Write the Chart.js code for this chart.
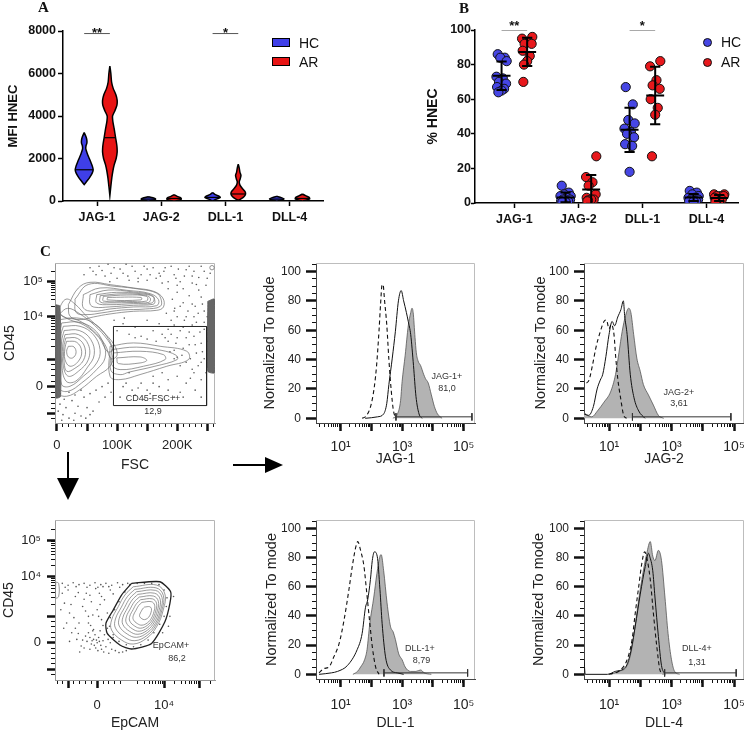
<!DOCTYPE html>
<html>
<head>
<meta charset="utf-8">
<script src="https://cdn.jsdelivr.net/npm/chart.js@4.4.1/dist/chart.umd.min.js"></script>
<style>
  html, body { margin:0; padding:0; background:#fff; }
  body { width:744px; height:732px; position:relative; overflow:hidden; font-family:'Liberation Sans', Arial, sans-serif; color:#111; }
  canvas { position:absolute; }
  .t { position:absolute; white-space:nowrap; line-height:1; }
  .c { transform:translate(-50%,-50%); }
</style>
</head>
<body>
<script>
// ===================== DATA =====================
const categories = ['JAG-1', 'JAG-2', 'DLL-1', 'DLL-4'];
const groups = ['HC', 'AR'];
const mfiTicks = [0, 2000, 4000, 6000, 8000];
const pctTicks = [0, 20, 40, 60, 80, 100];

// Panel A : violin profiles  [MFI, relative density]
const violinHC_JAG1 = [[3220,0],[3000,0.22],[2850,0.3],[2720,0.3],[2600,0.2],[2450,0.18],[2250,0.33],[2050,0.52],[1850,0.72],[1650,0.9],[1470,1],[1300,0.88],[1100,0.6],[950,0.33],[770,0]];
const violinHC_JAG2 = [[200,0],[150,0.5],[100,0.8],[50,0.7],[0,0]];
const violinHC_DLL1 = [[400,0],[300,0.3],[220,0.75],[160,0.85],[100,0.5],[40,0.2],[0,0]];
const violinHC_DLL4 = [[220,0],[160,0.5],[100,0.8],[50,0.6],[0,0]];
const violinAR_JAG1 = [[6350,0],[6000,0.11],[5600,0.19],[5300,0.37],[5000,0.67],[4750,0.81],[4500,0.78],[4250,0.56],[4000,0.3],[3750,0.33],[3400,0.48],[3000,0.63],[2600,0.78],[2300,0.81],[2000,0.7],[1700,0.48],[1400,0.33],[1100,0.22],[700,0.11],[250,0]];
const violinAR_JAG2 = [[300,0],[220,0.35],[150,0.75],[80,0.8],[20,0.4],[0,0]];
const violinAR_DLL1 = [[1730,0],[1550,0.11],[1350,0.19],[1200,0.3],[1050,0.22],[900,0.11],[750,0.19],[600,0.44],[450,0.74],[320,0.81],[200,0.63],[100,0.3],[30,0]];
const violinAR_DLL4 = [[330,0],[250,0.35],[170,0.75],[100,0.8],[40,0.4],[0,0]];
const medianHC = [1470, 90, 170, 90];
const medianAR = [2980, 120, 330, 120];
const sigA = [[0.8, 1.2, 7880, '**'], [2.8, 3.2, 7880, '*']];

// Panel B : % HNEC per subject
const pctHC_JAG1 = [86, 84, 84, 82, 73, 72, 70, 69, 67, 66, 65, 64];
const pctHC_JAG2 = [10, 6, 5, 4, 4, 3, 2, 2, 1, 1, 0.5, 0.5];
const pctHC_DLL1 = [67, 57, 48, 46, 43, 41, 40, 38, 34, 33, 18];
const pctHC_DLL4 = [7, 6, 5, 4, 3, 3, 2, 2, 1, 1, 1];
const pctAR_JAG1 = [96, 95, 93, 92, 92, 88, 85, 82, 80, 70];
const pctAR_JAG2 = [27, 15, 12, 10, 5, 3, 2, 2, 1.5, 1];
const pctAR_DLL1 = [82, 79, 71, 68, 66, 60, 55, 51, 27];
const pctAR_DLL4 = [5, 5, 4, 4, 4, 3, 2, 1, 0.5, 0.5];
const sigB = [[0.8, 1.2, 100, '**'], [2.8, 3.2, 100, '*']];

// Panel C : gating plots (FSC in K, CD45/EpCAM in display channel units)
const fscGate = [[94,86],[249,86],[249,-27],[94,-27]];
const fscUpper1 = [[18.9,117.2],[35.6,141],[55,149.1],[88.3,145.8],[127.2,141],[160.6,136.3],[176.1,126.7],[177.2,113.9],[166.1,109.1],[127.2,107.7],[88.3,103.9],[60.6,99.6],[38.3,95.8],[21.7,100.6]];
const fscUpper1b = [[30,125],[52,146],[95,143.5],[140,139],[165,134],[173,125.5],[172,114.8],[147,111],[108,109.5],[75,105.5],[50,103],[32,106]];
const fscUpper2 = [[43.9,131.5],[71.7,141],[116.1,137.7],[155,132.9],[168.9,124.4],[166.1,115.8],[127.2,113.9],[88.3,111],[60.6,107.7],[43.9,112.5]];
const fscUpper2b = [[55,131.5],[85,138],[127,135.3],[158,130.5],[163,122],[160,117.7],[127,116.3],[88,114],[63,113.5],[55,118]];
const fscUpper3 = [[66.1,131.5],[99.4,134.8],[138.3,132.9],[160.6,128.2],[157.8,119.6],[127.2,118.7],[88.3,117.2],[66.1,119.6]];
const fscUpper3b = [[72,130],[108,132.7],[144,131],[155,127],[153,120.5],[127,120.3],[88,119.8],[72,121]];
const fscUpper4 = [[77.2,129],[116.1,131],[149.4,129],[149.4,122.4],[116.1,121.9],[77.2,122.4]];
const fscUpper5 = [[84,127.5],[140,127.5],[140,124],[84,124]];
const fscBridge1 = [[2,110],[15,125],[30,118],[50,100],[75,80],[95,60],[100,45],[90,40],[80,60],[60,80],[35,95],[10,100]];
const fscBridge2 = [[4,104],[18,112],[38,104],[62,88],[85,66],[92,52],[84,50],[70,70],[45,88],[20,96]];
const fscLeft1 = [[5,95.8],[32.8,98.2],[60.6,91],[82.8,72],[93.9,48.2],[88.3,29.2],[66.1,14.9],[38.3,-4.2],[16.1,-13.7],[2.2,-8.9],[0.6,24.4],[0.6,67.2]];
const fscLeft1b = [[7.8,91],[35.5,92.2],[60.6,82.7],[77,62.5],[80,41],[66,24.4],[41,5.3],[19,-6.5],[5,-3],[2.8,31.5],[3.3,69.6]];
const fscLeft2 = [[10.6,86.3],[38.3,86.3],[60.6,74.4],[71.7,53],[66.1,33.9],[43.9,14.9],[21.7,0.6],[7.8,3],[5,38.7],[6.1,72]];
const fscLeft2b = [[12,80.3],[37,80.3],[56.4,67.2],[62,45.8],[51,28],[31.4,8],[15,8],[7.8,34],[7.7,65]];
const fscLeft3 = [[13.3,74.4],[35.6,74.4],[52.2,60.1],[52.2,38.7],[35.6,22],[18.9,14.9],[10.6,29.2],[9.4,57.7]];
const fscLeft3b = [[14.7,69.6],[34.2,68.9],[46.6,55.3],[43.9,37.5],[28.6,25.6],[16.3,22],[12,34],[11.4,56.5]];
const fscLeft4 = [[16.1,64.9],[32.8,63.4],[41.1,50.6],[35.6,36.3],[21.7,29.2],[13.3,38.7],[13.3,55.3]];
const fscLeft5 = [[18.9,57.7],[28.3,56.8],[31.7,48.2],[26.1,41.1],[18.9,42.5],[16.1,50.6]];
const fscTongue1 = [[88.3,57.7],[127.2,62.5],[171.7,57.7],[216.1,50.6],[218.9,38.7],[182.8,29.2],[138.3,17.3],[105,10.1],[88.3,14.9]];
const fscTongue1b = [[91,53],[132,56.5],[174.5,51.8],[198,45],[200,38.7],[163,29.2],[120,20.8],[105,17.2],[89.7,23.2]];
const fscTongue2 = [[93.9,48.2],[138.3,50.6],[177.2,45.8],[180,38.7],[143.9,29.2],[105,24.4],[91.1,31.5]];
const fscTongue3 = [[99.4,41.1],[138.3,42.5],[149.4,37.7],[138.3,33.9],[102.2,33]];
const fscStripL = [[-1.7,117],[5,115],[6,-14],[-1.7,-16]];
const fscStripR = [[251,122],[262,125],[262,20],[251,22]];
const fscDots = [[60,165],[80,158],[95,170],[110,162],[125,172],[140,160],[150,168],[165,155],[180,170],[195,160],[205,150],[215,167],[225,158],[240,172],[250,155],[120,152],[100,155],[70,172],[185,150],[232,146],[45,160],[88,150],[170,162],[210,140],
 [55,170],[65,160],[75,166],[85,175],[90,162],[105,168],[115,175],[118,158],[130,165],[135,155],[145,172],[155,160],[160,170],[172,158],[178,165],[190,172],[198,155],[202,168],[212,158],[220,172],[228,165],[236,156],[245,165],[255,162],[248,145],[225,148],[200,145],[175,148],[150,152],[135,150],
 [185,140],[192,125],[200,135],[210,120],[220,130],[230,115],[240,128],[245,108],[200,100],[212,95],[225,88],[238,78],[205,80],[190,95],[215,70],[230,60],[242,50],[198,62],[222,40],[235,30],[248,20],[208,45],[190,75],[182,105],[245,92],[236,138],[250,65],[228,100],[218,108],[196,112],
 [195,108],[205,115],[215,100],[225,118],[235,105],[242,118],[250,100],[195,88],[210,85],[220,78],[232,92],[245,82],[200,70],[228,72],[240,62],[210,55],[220,60],[232,48],[245,40],[215,35],[228,20],[240,35],[205,30],[195,40],[188,50],[185,65],
 [110,0],[125,-5],[140,5],[155,-10],[170,0],[185,10],[200,15],[215,5],[230,-5],[240,10],[120,20],[160,15],[195,-15],[225,25],[145,-18],[175,-20],[130,-12],[205,-8],
 [130,70],[150,68],[165,65],[180,70],[195,52],[200,42],[175,20],[160,5],[150,-5],[135,-2],[115,5],[105,-15],[185,-5],[210,-15],[222,12],[240,-15],
 [5,-25],[15,-30],[25,-20],[35,-28],[45,-15],[55,-10],[65,-5],[75,0],[85,5],[10,-40],[30,-38],[50,-30],[70,-22],[20,-45],[40,-42],[60,-35],[80,-15],[90,-8],
 [5,-10],[12,-18],[20,-8],[30,-12],[40,-5],[2,-35],[8,-48],[28,-48],[48,-45],[55,-40],
 [110,90],[130,85],[150,95],[170,90],[120,75],[140,72],[160,80],[100,80],[175,75],[185,82],[112,98],[95,95]];
const fscCornerEvent = [[258,170]];

const epGate = [[47.3,90],[86.2,92.4],[101,77.3],[100,59.7],[93.1,31.8],[74.8,-1],[47.3,-9.5],[31.2,-3.5],[13.8,14.2],[12,29.4],[22,49.5],[33.5,72.3]];
const epC1 = [[49.5,84.8],[81.7,87.4],[93.1,73.8],[90.8,49.5],[81.7,24.2],[67.9,6.7],[49.5,-2],[33.5,4.1],[19.8,19.2],[19.8,34.4],[28.9,54.5],[38.1,72.3]];
const epC2 = [[51.8,80.9],[80.8,83.2],[91.1,71.3],[89,49.5],[80.8,26.7],[68.4,10.9],[51.8,3.1],[37.4,8.6],[25.1,22.2],[25.1,35.9],[33.3,54],[41.6,70]];
const epC3 = [[54.2,77.3],[80,79.4],[89.1,68.8],[87.2,49.4],[80,29.2],[68.9,15.2],[54.2,8.2],[41.4,13.1],[30.4,25.2],[30.4,37.3],[37.7,53.4],[45.1,67.6]];
const epC4 = [[56,73.3],[78.6,75.1],[86.6,65.9],[85,48.9],[78.6,31.1],[68.9,18.9],[56,12.8],[44.8,17.1],[35.3,27.6],[35.3,38.3],[41.6,52.4],[48.1,64.8]];
const epC5 = [[57.9,69.2],[77.2,70.8],[84.1,62.9],[82.7,48.3],[77.2,33.1],[68.9,22.6],[57.9,17.4],[48.3,21.1],[40.1,30.1],[40.1,39.2],[45.5,51.3],[51.1,62]];
const epC6 = [[59.8,65.2],[75.9,66.5],[81.6,59.9],[80.4,47.8],[75.9,35.1],[69,26.4],[59.8,22],[51.8,25.1],[44.9,32.6],[44.9,40.2],[49.5,50.3],[54.1,59.2]];
const epC7 = [[61.6,61.2],[74.5,62.2],[79,56.9],[78.1,47.2],[74.5,37.1],[69,30.1],[61.6,26.6],[55.2,29],[49.7,35.1],[49.7,41.2],[53.4,49.2],[57,56.3]];
const epC8 = [[65,54],[72.1,54.6],[74.6,51.7],[74.1,46.3],[72.1,40.7],[69.1,36.9],[65,35],[61.5,36.3],[58.5,39.6],[58.5,43],[60.5,47.4],[62.5,51.3]];
const epEdge = [[-57,92],[-53,90],[-53,70],[-57,68]];
const epDots = [[-48,90],[-40,87],[-33,91],[-25,88],[-18,90],[-10,87],[-3,91],[5,88],[12,90],[20,87],[28,91],[35,88],[42,90],[-44,84],[-29,85],[-14,84],[1,84],[16,85],[31,84],
 [-45,60],[-38,45],[-30,70],[-25,30],[-20,55],[-15,75],[-12,40],[-8,62],[-5,20],[0,50],[3,75],[6,35],[10,65],[14,45],[18,80],[-35,15],[-28,5],[-22,-5],[-42,30],[-48,75],[-2,82],[8,85],[-50,50],[-36,58],[-18,66],[-6,42],[4,58],
 [-40,80],[-26,76],[-10,72],[6,70],[22,74],[-32,38],[-16,48],[2,40],[-46,22],[-30,22],[-12,30],[8,26],[-38,2],[-26,14],
 [-14,2],[-10,8],[-8,-2],[-5,5],[-3,12],[0,0],[2,8],[5,-4],[8,3],[10,12],[-12,15],[-6,18],[4,18],[12,-6],[15,5],[-18,-8],[20,-10],[25,-12],[30,-15],[35,-14],[40,-12],[18,0],[22,8],[-2,-8],[6,-10],[-16,10],[14,22],[-9,26],
 [-7,3],[-1,4],[3,2],[-4,-4],[1,-12],[-10,-10],[9,-14],[-20,4],[-24,-14],[16,-16],
 [45,88],[55,90],[65,90],[75,90],[85,88],[92,80],[96,68],[95,55],[92,40],[86,28],[78,15],[70,4],[60,-3],[50,-6],[40,-3],[30,2],[22,12],[17,25],[18,38],[24,50],[30,62],[38,77],
 [100,40],[98,25],[90,15],[105,70]];

// Panel C : histograms  [log10 fluorescence, % of mode]
const histJAG1Iso = [[1.7,0],[1.85,2],[2.0,10],[2.1,22],[2.17,36],[2.25,60],[2.3,78],[2.35,91],[2.38,91],[2.43,80],[2.5,64],[2.57,40],[2.65,18],[2.72,5],[2.8,0]];
const histJAG1Open = [[1.8,0],[2.2,1],[2.4,3],[2.5,10],[2.57,23],[2.68,41],[2.78,59],[2.88,80],[2.97,87],[3.05,80],[3.14,72],[3.2,66],[3.28,57],[3.37,36],[3.45,15],[3.55,3],[3.65,0]];
const histJAG1Filled = [[2.7,0],[2.85,3],[2.95,12],[3.0,25],[3.1,43],[3.2,63],[3.28,72],[3.32,75],[3.36,72],[3.42,55],[3.46,45],[3.52,39],[3.6,36],[3.7,30],[3.76,27],[3.85,24],[3.95,16],[4.05,8],[4.15,3],[4.3,0]];
const histJAG2Iso = [[0.28,24],[0.36,26],[0.47,36],[0.58,48],[0.72,59],[0.84,66],[0.92,67],[1.0,61],[1.07,64],[1.16,57],[1.21,43],[1.28,27],[1.37,14],[1.47,2],[1.56,0]];
const histJAG2Open = [[0.2,3],[0.35,2],[0.5,8],[0.62,20],[0.72,26],[0.8,30],[0.9,42],[1.0,57],[1.1,66],[1.18,63],[1.28,69],[1.38,74],[1.46,80],[1.5,70],[1.58,57],[1.68,30],[1.8,14],[1.95,5],[2.15,0]];
const histJAG2Filled = [[0.2,4],[0.3,2],[0.45,1],[0.63,5],[0.84,11],[1.05,18],[1.21,30],[1.32,45],[1.42,59],[1.53,70],[1.63,75],[1.7,72],[1.79,57],[1.89,41],[2.0,32],[2.1,23],[2.26,16],[2.42,9],[2.58,2],[2.75,0]];
const histDLL1Iso = [[0.3,1],[0.46,4],[0.62,5],[0.78,12],[0.95,21],[1.11,37],[1.27,58],[1.38,74],[1.49,87],[1.56,91],[1.65,85],[1.76,74],[1.84,58],[1.95,35],[2.03,19],[2.14,5],[2.25,0]];
const histDLL1Open = [[0.3,0],[0.7,1],[0.9,2],[1.22,6],[1.54,17],[1.7,28],[1.81,46],[1.88,51],[1.97,65],[2.03,78],[2.1,84],[2.19,81],[2.28,58],[2.35,35],[2.46,12],[2.62,3],[2.84,1],[3.05,0]];
const histDLL1Filled = [[1.4,0],[1.55,2],[1.65,5],[1.78,10],[1.86,17],[1.95,35],[2.08,53],[2.18,69],[2.28,81],[2.32,82],[2.4,71],[2.51,49],[2.62,33],[2.71,29],[2.78,24],[2.89,14],[3.0,10],[3.1,5],[3.27,2],[3.45,2],[3.6,3],[3.72,1],[3.95,0]];
const histDLL4Iso = [[1.0,0],[1.37,3],[1.58,10],[1.74,24],[1.84,42],[1.95,60],[2.05,76],[2.14,84],[2.2,81],[2.32,65],[2.42,42],[2.53,19],[2.63,3],[2.74,0]];
const histDLL4Open = [[0.2,10],[0.24,0],[0.95,0],[1.2,2],[1.53,5],[1.68,14],[1.84,33],[2.0,55],[2.16,74],[2.26,83],[2.3,81],[2.4,71],[2.47,53],[2.58,26],[2.68,6],[2.79,0]];
const histDLL4Filled = [[1.05,0],[1.3,2],[1.58,6],[1.74,19],[1.89,42],[2.05,65],[2.21,83],[2.32,91],[2.4,81],[2.47,78],[2.58,85],[2.68,78],[2.79,53],[2.89,28],[3.0,10],[3.1,2],[3.26,0]];
const gateJAG1 = [2.8, 5.27], gateJAG2 = [1.75, 4.9], gateDLL1 = [2.41, 5.13], gateDLL4 = [2.78, 5.07];

// tick labels
const histYMajor = [0, 20, 40, 60, 80, 100];
const histYMinor = [5, 10, 15, 25, 30, 35, 45, 50, 55, 65, 70, 75, 85, 90, 95, 105];
const histXMajor = [1, 2, 3, 4, 5];
const histXLabels = [[1, '10\u00B9'], [3, '10\u00B3'], [5, '10\u2075']];
const fscXMajor = [0, 50, 100, 150, 200, 250];
const fscXMinor = [10,20,30,40,60,70,80,90,110,120,130,140,160,170,180,190,210,220,230,240,260];
const fscXLabels = [[0, '0'], [100, '100K'], [200, '200K']];
const fscYMajor = [-38, 0, 38.6, 100, 150];
const fscYMinor = [-46,-31,-24,-16,-8,8,16,24,31,57.1,67.9,75.6,81.5,86.4,90.5,94.1,97.2,115.1,123.9,130.1,134.9,138.9,142.3,145.2,147.7,165.1];
const fscYLabels = [[0, '0'], [100, '10\u2074'], [150, '10\u2075']];
const epXMajor = [-40, 0, 92, 141];
const epXMinor = [-55,-48,-32,-24,-16,-8,8,16,24,32,55.7,64.8,71.3,76.3,80.5,83.9,87,89.6,106.7,115.4,121.5,126.3,130.1,133.4,136.3,138.8,155.8];
const epXLabels = [[0, '0'], [92, '10\u2074']];
const epYMajor = [-40, 0, 39, 100, 155.6];
const epYMinor = [-48,-32,-24,-16,-8,8,16,24,32,57.4,68.1,75.7,81.6,86.5,90.6,94.1,97.2,116.7,126.5,133.5,138.9,143.3,147,150.2,153,172.3];
const epYLabels = [[0, '0'], [100, '10\u2074'], [155.6, '10\u2075']];

// ===================== HELPERS =====================
Chart.defaults.font.family = "'Liberation Sans', Arial, sans-serif";
Chart.defaults.color = '#111';
Chart.defaults.animation = false;
Chart.defaults.events = [];
Chart.defaults.plugins.legend.display = false;
Chart.defaults.plugins.tooltip.enabled = false;

const framePlugin = {
  id: 'frame',
  beforeDatasetsDraw(chart, args, o) {
    if (!o || !o.color) return;
    const {ctx, chartArea: a} = chart;
    ctx.save(); ctx.strokeStyle = o.color; ctx.lineWidth = 1;
    ctx.beginPath();
    ctx.moveTo(a.left, a.top + 0.5); ctx.lineTo(a.right - 0.5, a.top + 0.5); ctx.lineTo(a.right - 0.5, a.bottom);
    ctx.stroke(); ctx.restore();
  }
};
Chart.register(framePlugin);

function addCanvas(b) {
  const c = document.createElement('canvas');
  c.width = b.w; c.height = b.h;
  c.style.left = b.x + 'px'; c.style.top = b.y + 'px';
  c.style.width = b.w + 'px'; c.style.height = b.h + 'px';
  document.body.appendChild(c);
  return c;
}
function addText(txt, x, y, css, cls) {
  const d = document.createElement('div');
  d.className = 't' + (cls ? ' ' + cls : '');
  d.textContent = txt;
  d.style.left = x + 'px'; d.style.top = y + 'px';
  Object.assign(d.style, css || {});
  document.body.appendChild(d);
  return d;
}
function addBox(x, y, w, h, css) {
  const d = document.createElement('div');
  d.style.position = 'absolute'; d.style.left = x + 'px'; d.style.top = y + 'px';
  d.style.width = w + 'px'; d.style.height = h + 'px'; d.style.boxSizing = 'border-box';
  Object.assign(d.style, css || {});
  document.body.appendChild(d);
  return d;
}
const pts = arr => arr.map(p => ({x: p[0], y: p[1]}));
const ring = arr => pts(arr.concat([arr[0]]));
const setTicks = values => s => { s.ticks = values.map(v => ({value: v})); };
const labelFrom = pairs => { const m = new Map(pairs); return v => (m.has(v) ? m.get(v) : ''); };
const fixH = h => s => { s.height = h; s.paddingLeft = 0; s.paddingRight = 0; };
const fixW = w => s => { s.width = w; s.paddingTop = 0; s.paddingBottom = 0; };
function areaLayout(box, area) {
  return { padding: {top: area.t - box.y, right: box.x + box.w - area.r, left: 0, bottom: 0},
           yW: area.l - box.x, xH: box.y + box.h - area.b };
}
const lineDs = (data, extra) => Object.assign({data, showLine: true, pointRadius: 0, xAxisID: 'x', yAxisID: 'y', tension: 0}, extra);

// ===================== PANEL A (violins) =====================
const VIOLIN_HALF = 0.14;
const violinsHC = [violinHC_JAG1, violinHC_JAG2, violinHC_DLL1, violinHC_DLL4];
const violinsAR = [violinAR_JAG1, violinAR_JAG2, violinAR_DLL1, violinAR_DLL4];
function violinPoly(center, prof) {
  const right = prof.map(p => ({x: center + p[1] * VIOLIN_HALF, y: p[0]}));
  const left = prof.slice().reverse().map(p => ({x: center - p[1] * VIOLIN_HALF, y: p[0]}));
  return right.concat(left);
}
function densityAt(prof, v) {
  for (let i = 0; i < prof.length - 1; i++) {
    const a = prof[i], b = prof[i + 1];
    if (v <= a[0] && v >= b[0]) { const t = (a[0] - v) / (a[0] - b[0]); return a[1] + (b[1] - a[1]) * t; }
  }
  return 0;
}
const HC_BLUE = '#3f3fe8', AR_RED = '#e81414';
const aSets = [];
categories.forEach((c, i) => {
  [[violinsHC[i], medianHC[i], i + 1 - 0.2], [violinsAR[i], medianAR[i], i + 1 + 0.2]].forEach(([prof, med, cx]) => {
    const hw = densityAt(prof, med) * VIOLIN_HALF;
    aSets.push(lineDs([{x: cx - hw, y: med}, {x: cx + hw, y: med}], {borderColor: '#000', borderWidth: 1.2}));
  });
});
sigA.forEach(s => aSets.push(lineDs([{x: s[0], y: s[2]}, {x: s[1], y: s[2]}], {borderColor: '#555', borderWidth: 1})));
categories.forEach((c, i) => {
  aSets.push(lineDs(violinPoly(i + 1 - 0.2, violinsHC[i]), {fill: 'shape', backgroundColor: HC_BLUE, borderColor: '#000', borderWidth: 1.5, tension: 0.25}));
  aSets.push(lineDs(violinPoly(i + 1 + 0.2, violinsAR[i]), {fill: 'shape', backgroundColor: AR_RED, borderColor: '#000', borderWidth: 1.5, tension: 0.25}));
});
const boxA = {x: 0, y: 0, w: 372, h: 232}, LA = areaLayout(boxA, {l: 63, t: 31, r: 323, b: 201});
const chartA = new Chart(addCanvas(boxA), {
  type: 'scatter',
  data: {datasets: aSets},
  options: {
    responsive: false, layout: {padding: LA.padding},
    scales: {
      x: {type: 'linear', axis: 'x', position: 'bottom', min: 0.47, max: 4.52,
          afterBuildTicks: setTicks(categories.map((c, i) => i + 1)), afterFit: fixH(LA.xH),
          ticks: {autoSkip: false, maxRotation: 0, callback: v => categories[Math.round(v) - 1] || '', font: {size: 12.5, weight: 'bold'}, color: '#111', padding: 4},
          grid: {drawOnChartArea: false, tickLength: 5, tickWidth: 1.5, tickColor: '#000'},
          border: {color: '#000', width: 1.5, dash: [2, 2]}},
      y: {type: 'linear', axis: 'y', position: 'left', min: 0, max: 8000,
          afterBuildTicks: setTicks(mfiTicks), afterFit: fixW(LA.yW),
          ticks: {autoSkip: false, callback: v => String(v), font: {size: 12.5, weight: 'bold'}, color: '#111', padding: 2},
          grid: {drawOnChartArea: false, tickLength: 5, tickWidth: 1.5, tickColor: '#000'},
          border: {color: '#000', width: 1.5},
          title: {display: true, text: 'MFI HNEC', font: {size: 13, weight: 'bold'}, color: '#111', padding: {top: 6, bottom: 0}}}
    }
  }
});

// ===================== PANEL B (dot plot, mean ± SD) =====================
const pctHC = [pctHC_JAG1, pctHC_JAG2, pctHC_DLL1, pctHC_DLL4];
const pctAR = [pctAR_JAG1, pctAR_JAG2, pctAR_DLL1, pctAR_DLL4];
const JITTER = [-0.06, 0.05, -0.02, 0.08, -0.08, 0.02, -0.04, 0.07, -0.07, 0.04, 0.0, -0.05];
function errBar(c, vals) {
  const m = vals.reduce((a, b) => a + b, 0) / vals.length;
  const sd = Math.sqrt(vals.reduce((a, b) => a + (b - m) * (b - m), 0) / (vals.length - 1));
  return [{x: c - 0.14, y: m}, {x: c + 0.14, y: m}, {x: c, y: null},
          {x: c - 0.08, y: m + sd}, {x: c + 0.08, y: m + sd}, {x: c, y: null},
          {x: c - 0.08, y: m - sd}, {x: c + 0.08, y: m - sd}, {x: c, y: null},
          {x: c, y: m - sd}, {x: c, y: m + sd}];
}
const bSets = [];
categories.forEach((c, i) => {
  bSets.push(lineDs(errBar(i + 1 - 0.2, pctHC[i]), {borderColor: '#000', borderWidth: 2}));
  bSets.push(lineDs(errBar(i + 1 + 0.2, pctAR[i]), {borderColor: '#000', borderWidth: 2}));
});
sigB.forEach(s => bSets.push(lineDs([{x: s[0], y: s[2]}, {x: s[1], y: s[2]}], {borderColor: '#555', borderWidth: 1})));
const hcPts = [], arPts = [];
categories.forEach((c, i) => {
  pctHC[i].forEach((v, j) => hcPts.push({x: i + 1 - 0.2 + JITTER[j % JITTER.length], y: v}));
  pctAR[i].forEach((v, j) => arPts.push({x: i + 1 + 0.2 + JITTER[(j + 3) % JITTER.length], y: v}));
});
bSets.push({label: 'HC', data: hcPts, xAxisID: 'x', yAxisID: 'y', pointRadius: 4.6, backgroundColor: '#4646e4', borderColor: '#111', borderWidth: 1});
bSets.push({label: 'AR', data: arPts, xAxisID: 'x', yAxisID: 'y', pointRadius: 4.6, backgroundColor: '#e8181c', borderColor: '#111', borderWidth: 1});
const boxB = {x: 372, y: 0, w: 372, h: 232}, LB = areaLayout(boxB, {l: 475, t: 30, r: 742, b: 203});
const chartB = new Chart(addCanvas(boxB), {
  type: 'scatter',
  data: {datasets: bSets},
  options: {
    responsive: false, layout: {padding: LB.padding},
    scales: {
      x: {type: 'linear', axis: 'x', position: 'bottom', min: 0.385, max: 4.5,
          afterBuildTicks: setTicks(categories.map((c, i) => i + 1)), afterFit: fixH(LB.xH),
          ticks: {autoSkip: false, maxRotation: 0, callback: v => categories[Math.round(v) - 1] || '', font: {size: 12.5, weight: 'bold'}, color: '#111', padding: 4},
          grid: {drawOnChartArea: false, tickLength: 5, tickWidth: 1.5, tickColor: '#000'},
          border: {color: '#000', width: 1.5}},
      y: {type: 'linear', axis: 'y', position: 'left', min: 0, max: 100,
          afterBuildTicks: setTicks(pctTicks), afterFit: fixW(LB.yW),
          ticks: {autoSkip: false, callback: v => String(v), font: {size: 12.5, weight: 'bold'}, color: '#111', padding: 0},
          grid: {drawOnChartArea: false, tickLength: 4, tickWidth: 1.5, tickColor: '#000'},
          border: {color: '#000', width: 1.5},
          title: {display: true, text: '% HNEC', font: {size: 14, weight: 'bold'}, color: '#111', padding: {top: 53, bottom: 0}}}
    }
  }
});

// ===================== PANEL C helpers =====================
function flowScales(c) {
  return {
    xm: {type: 'linear', axis: 'x', position: 'bottom', weight: 0, min: c.xr[0], max: c.xr[1],
         afterBuildTicks: setTicks(c.xMinor), afterFit: fixH(0),
         ticks: {display: false}, border: {display: false},
         grid: {drawOnChartArea: false, tickLength: 4, tickWidth: 1, tickColor: '#111'}},
    x: {type: 'linear', axis: 'x', position: 'bottom', weight: 1, min: c.xr[0], max: c.xr[1],
        afterBuildTicks: setTicks(c.xMajor), afterFit: fixH(c.xH),
        ticks: {autoSkip: false, maxRotation: 0, callback: labelFrom(c.xLabels), color: '#222', font: {size: c.xFont || 13}, padding: c.xPad},
        border: {display: true, color: c.border, width: 1},
        grid: {drawOnChartArea: false, tickLength: 8, tickWidth: c.majW, tickColor: '#111'},
        title: {display: true, text: c.xTitle, color: '#222', font: {size: 14}, padding: {top: 0, bottom: c.xTitlePad}}},
    ym: {type: 'linear', axis: 'y', position: 'left', weight: 0, min: c.yr[0], max: c.yr[1],
         afterBuildTicks: setTicks(c.yMinor), afterFit: fixW(0),
         ticks: {display: false}, border: {display: false},
         grid: {drawOnChartArea: false, tickLength: 4, tickWidth: 1, tickColor: '#111'}},
    y: {type: 'linear', axis: 'y', position: 'left', weight: 1, min: c.yr[0], max: c.yr[1],
        afterBuildTicks: setTicks(c.yMajor), afterFit: fixW(c.yW),
        ticks: {autoSkip: false, callback: labelFrom(c.yLabels), color: '#222', font: {size: c.yFont || 13}, padding: c.yPad},
        border: {display: true, color: c.border, width: 1},
        grid: {drawOnChartArea: false, tickLength: c.yMajLen || 8, tickWidth: c.majW, tickColor: '#111'},
        title: {display: true, text: c.yTitle, color: '#222', font: {size: c.yTitleSize || 14}, padding: {top: c.yTitlePad, bottom: 0}}}
  };
}
const contourStyle = {borderColor: '#6e6e6e', borderWidth: 0.7, tension: 0.4};

// ---- FSC vs CD45 ----
const fscContours = [fscUpper1, fscUpper1b, fscUpper2, fscUpper2b, fscUpper3, fscUpper3b, fscUpper4, fscUpper5, fscBridge1, fscBridge2,
  fscLeft1, fscLeft1b, fscLeft2, fscLeft2b, fscLeft3, fscLeft3b, fscLeft4, fscLeft5, fscTongue1, fscTongue1b, fscTongue2, fscTongue3];
const fSets = [lineDs(ring(fscGate), {borderColor: '#222', borderWidth: 1})];
fscContours.forEach(c => fSets.push(lineDs(ring(c), contourStyle)));
[fscStripL, fscStripR].forEach(s => fSets.push(lineDs(ring(s), {fill: 'shape', backgroundColor: '#666', borderColor: '#555', borderWidth: 0.8, tension: 0.2})));
fSets.push({data: pts(fscDots), xAxisID: 'x', yAxisID: 'y', pointRadius: 0.8, backgroundColor: '#555', borderWidth: 0});
fSets.push({data: pts(fscCornerEvent), xAxisID: 'x', yAxisID: 'y', pointRadius: 2.2, backgroundColor: 'rgba(0,0,0,0)', borderColor: '#777', borderWidth: 0.8});
const boxF = {x: 0, y: 240, w: 230, h: 235}, LF = areaLayout(boxF, {l: 55, t: 263, r: 215, b: 423});
new Chart(addCanvas(boxF), {
  type: 'scatter', data: {datasets: fSets},
  options: {responsive: false, layout: {padding: LF.padding}, plugins: {frame: {color: '#b5b5b5'}},
    scales: flowScales({xr: [-3.3, 263], yr: [-51.9, 176.7], xMajor: fscXMajor, xMinor: fscXMinor, xLabels: fscXLabels,
      yMajor: fscYMajor, yMinor: fscYMinor, yLabels: fscYLabels, xH: LF.xH, yW: LF.yW, xPad: 6.5, yPad: 4,
      xTitle: 'FSC', yTitle: 'CD45', xTitlePad: 1.6, yTitlePad: 1.6, border: '#999', majW: 2.5})}
});

// ---- EpCAM vs CD45 ----
const epContours = [epC1, epC2, epC3, epC4, epC5, epC6, epC7, epC8, epEdge];
const eSets = [lineDs(ring(epGate), {borderColor: '#222', borderWidth: 1.3, tension: 0.2})];
epContours.forEach(c => eSets.push(lineDs(ring(c), contourStyle)));
eSets.push({data: pts(epDots), xAxisID: 'x', yAxisID: 'y', pointRadius: 0.8, backgroundColor: '#555', borderWidth: 0});
const boxE = {x: 0, y: 497, w: 230, h: 235}, LE = areaLayout(boxE, {l: 55, t: 520, r: 215, b: 680});
new Chart(addCanvas(boxE), {
  type: 'scatter', data: {datasets: eSets},
  options: {responsive: false, layout: {padding: LE.padding}, plugins: {frame: {color: '#b5b5b5'}},
    scales: flowScales({xr: [-58, 162], yr: [-56.5, 186], xMajor: epXMajor, xMinor: epXMinor, xLabels: epXLabels,
      yMajor: epYMajor, yMinor: epYMinor, yLabels: epYLabels, xH: LE.xH, yW: LE.yW, xPad: 9.5, yPad: 6,
      xTitle: 'EpCAM', yTitle: 'CD45', xTitlePad: 0.6, yTitlePad: 0.6, border: '#999', majW: 2.5})}
});

// ---- Histograms ----
const histXMinor = [0, 1, 2, 3, 4].flatMap(d => [2, 3, 4, 5, 6, 7, 8, 9].map(k => d + Math.log10(k))).filter(v => v > 0.2 && v < 5.3);
const histPanels = [
  {title: 'JAG-1', box: {x: 255, y: 240, w: 230, h: 235}, area: {l: 316, t: 263, r: 475, b: 423}, xr: [0.2, 5.37],
   iso: histJAG1Iso, open: histJAG1Open, filled: histJAG1Filled, gate: gateJAG1, yTitlePad: 6.3, xTitlePad: 7.6, xPad: 8, yPad: 5},
  {title: 'JAG-2', box: {x: 523, y: 240, w: 221, h: 235}, area: {l: 584, t: 263, r: 744, b: 423}, xr: [0.2, 5.32],
   iso: histJAG2Iso, open: histJAG2Open, filled: histJAG2Filled, gate: gateJAG2, yTitlePad: 9, xTitlePad: 7.6, xPad: 8, yPad: 5},
  {title: 'DLL-1', box: {x: 255, y: 497, w: 230, h: 235}, area: {l: 316, t: 520, r: 475, b: 679}, xr: [0.2, 5.37],
   iso: histDLL1Iso, open: histDLL1Open, filled: histDLL1Filled, gate: gateDLL1, yTitlePad: 8, xTitlePad: 0.6, xPad: 10, yPad: 5},
  {title: 'DLL-4', box: {x: 523, y: 497, w: 221, h: 235}, area: {l: 584, t: 520, r: 744, b: 679}, xr: [0.2, 5.32],
   iso: histDLL4Iso, open: histDLL4Open, filled: histDLL4Filled, gate: gateDLL4, yTitlePad: 7.3, xTitlePad: 0.6, xPad: 10, yPad: 5}
];
histPanels.forEach(p => {
  const L = areaLayout(p.box, p.area);
  const g = p.gate;
  const gateData = [{x: g[0], y: 3.5}, {x: g[0], y: -1.5}, {x: g[0], y: null}, {x: g[0], y: 1}, {x: g[1], y: 1}, {x: g[1], y: null}, {x: g[1], y: 3.5}, {x: g[1], y: -1.5}];
  new Chart(addCanvas(p.box), {
    type: 'scatter',
    data: {datasets: [
      lineDs(gateData, {borderColor: '#333', borderWidth: 1}),
      lineDs(pts(p.iso), {borderColor: '#111', borderWidth: 1.1, borderDash: [4, 3], cubicInterpolationMode: 'monotone'}),
      lineDs(pts(p.open), {borderColor: '#111', borderWidth: 1, cubicInterpolationMode: 'monotone'}),
      lineDs(pts(p.filled), {borderColor: '#555', borderWidth: 0.8, backgroundColor: '#b3b3b3', fill: {value: 0}, cubicInterpolationMode: 'monotone'})
    ]},
    options: {responsive: false, layout: {padding: L.padding}, plugins: {frame: {color: '#bdbdbd'}},
      scales: flowScales({xr: p.xr, yr: [-3.2, 105.8], xMajor: histXMajor, xMinor: histXMinor, xLabels: histXLabels,
        yMajor: histYMajor, yMinor: histYMinor, yLabels: histYMajor.map(v => [v, String(v)]), xH: L.xH, yW: L.yW,
        xPad: p.xPad, yPad: p.yPad, yFont: 12, xFont: 14, yMajLen: 10, xTitle: p.title, yTitle: 'Normalized To mode', yTitleSize: 14.5,
        xTitlePad: p.xTitlePad, yTitlePad: p.yTitlePad, border: '#444', majW: 2.5})}
  });
});

// ===================== TEXT / DECORATION =====================
const serifBold = {fontFamily: "'Liberation Serif', 'Times New Roman', serif", fontWeight: 'bold', fontSize: '15px'};
addText('A', 38, 0, serifBold);
addText('B', 459, 1, serifBold);
addText('C', 40, 244, serifBold);

// significance stars
const starCss = {fontSize: '13px', fontWeight: 'bold', transform: 'translateX(-50%)'};
sigA.forEach(s => addText(s[3], boxA.x + chartA.scales.x.getPixelForValue((s[0] + s[1]) / 2), boxA.y + chartA.scales.y.getPixelForValue(s[2]) - 7.5, starCss));
sigB.forEach(s => addText(s[3], boxB.x + chartB.scales.x.getPixelForValue((s[0] + s[1]) / 2), boxB.y + chartB.scales.y.getPixelForValue(s[2]) - 11, starCss));

// legends
addBox(272, 38, 18, 9, {background: HC_BLUE, border: '1.5px solid #000'});
addBox(272, 57, 18, 9, {background: AR_RED, border: '1.5px solid #000'});
addText(groups[0], 299, 35.5, {fontSize: '14px'});
addText(groups[1], 299, 55, {fontSize: '14px'});
addBox(702.5, 37.5, 9, 9, {background: '#4646e4', border: '1px solid #111', borderRadius: '50%'});
addBox(702.5, 57.5, 9, 9, {background: '#e8181c', border: '1px solid #111', borderRadius: '50%'});
addText(groups[0], 721, 35, {fontSize: '14px'});
addText(groups[1], 721, 55, {fontSize: '14px'});

// gate labels
const gl = {fontSize: '9px', color: '#333'};
addText('CD45-FSC++', 153, 398, gl, 'c');
addText('12,9', 153, 411, gl, 'c');
addText('EpCAM+', 171, 645, gl, 'c');
addText('86,2', 177, 658, gl, 'c');
addText('JAG-1+', 447, 376, gl, 'c');
addText('81,0', 447, 387.5, gl, 'c');
addText('JAG-2+', 679, 392, gl, 'c');
addText('3,61', 679, 403, gl, 'c');
addText('DLL-1+', 420, 648, gl, 'c');
addText('8,79', 421.5, 660, gl, 'c');
addText('DLL-4+', 697, 648, gl, 'c');
addText('1,31', 697, 661.5, gl, 'c');

// arrows
addBox(67, 452, 2, 27, {background: '#000'});
addBox(57, 478, 0, 0, {borderLeft: '11.5px solid transparent', borderRight: '11.5px solid transparent', borderTop: '22px solid #000', boxSizing: 'content-box'});
addBox(233, 464, 33, 2, {background: '#000'});
addBox(265, 456.5, 0, 0, {borderTop: '8.5px solid transparent', borderBottom: '8.5px solid transparent', borderLeft: '18px solid #000', boxSizing: 'content-box'});
</script>
</body>
</html>
